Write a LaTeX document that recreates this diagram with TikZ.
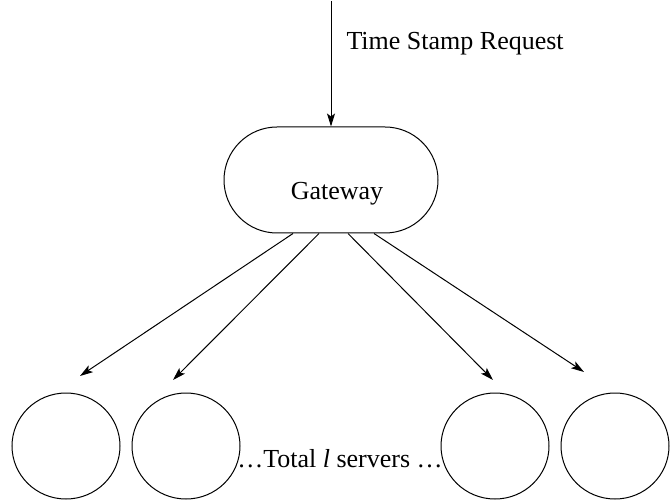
\documentclass[tikz,border=0pt]{standalone}
\usepackage{fontspec}
\setmainfont{Liberation Serif}
\usetikzlibrary{shapes.misc,shapes.geometric,arrows.meta}
\begin{document}
\begin{tikzpicture}[x=1pt,y=-1pt,line width=1pt,
  server/.style={draw,ellipse,minimum width=108pt,minimum height=106pt,inner sep=0pt},
  gwbox/.style={draw,rounded rectangle,minimum width=214pt,minimum height=106pt,inner sep=0pt},
  arr/.style={-{Stealth[length=13pt,width=8pt,inset=3pt]}},
  lbl/.style={font=\fontsize{26}{30}\selectfont,inner sep=0pt}]
\useasboundingbox (0,0) rectangle (671,502);
\node[gwbox] (gw) at (331,180) {};
\node[lbl] (gwl) at ([xshift=6pt,yshift=-14pt]gw.center) {Gateway};
\coordinate (in) at (331,1);
\draw[arr] (in) -- (gw.north);
\node[lbl,anchor=west] (req) at (346,44) {Time Stamp Request};
\node[server] (s1) at (66,446) {};
\node[server] (s2) at (186,446) {};
\node[server] (s3) at (495,446) {};
\node[server] (s4) at (615,446) {};
\node[lbl] (tot) at (340,459) {\ldots Total \textit{l} servers \ldots};
\coordinate (t1) at (80,376);
\coordinate (t2) at (173,380);
\coordinate (t3) at (493,380);
\coordinate (t4) at (584,372);
\draw[arr] ([xshift=-38pt]gw.south) -- (t1);
\draw[arr] ([xshift=-12pt]gw.south) -- (t2);
\draw[arr] ([xshift=17pt]gw.south) -- (t3);
\draw[arr] ([xshift=43pt]gw.south) -- (t4);
\end{tikzpicture}
\end{document}
